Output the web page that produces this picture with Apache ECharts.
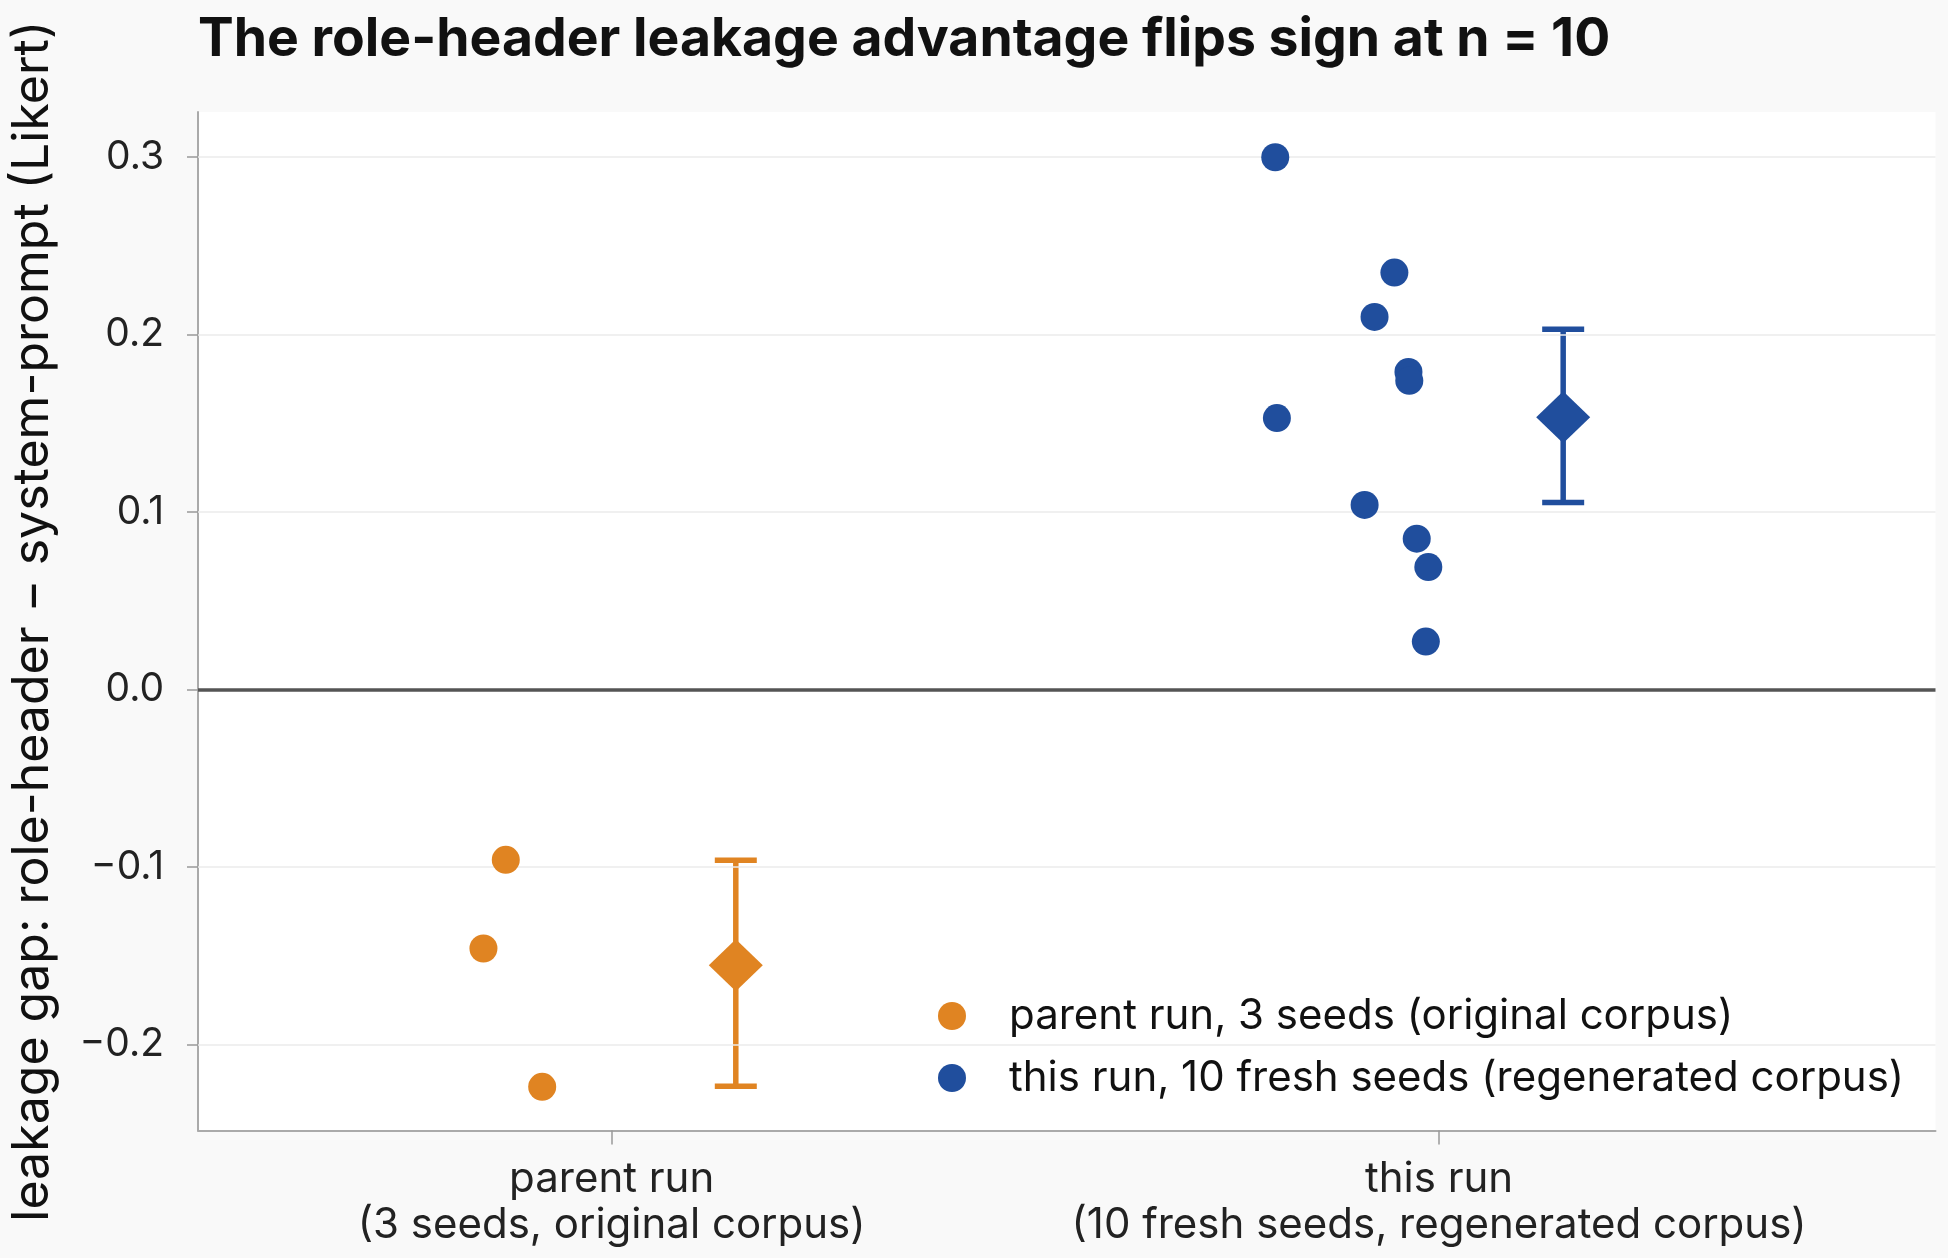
<!DOCTYPE html>
<html>
<head>
    <meta charset="utf-8">
    <style>
        html, body { margin: 0; padding: 0; background: #f9f9f9; }
        #main { width: 1948px; height: 1258px; }
    </style>
    <script src="https://cdn.jsdelivr.net/npm/echarts@6/dist/echarts.min.js"></script>
</head>
<body>
<div id="main"></div>
<script>
    // runs on the x axis (0 = parent run, 1 = this run)
    var runLabels = ['parent run\n(3 seeds, original corpus)', 'this run\n(10 fresh seeds, regenerated corpus)'];
    var legendNames = ['parent run, 3 seeds (original corpus)', 'this run, 10 fresh seeds (regenerated corpus)'];
    var colors = ['#e08422', '#204e9d'];

    // per-seed leakage gaps and their horizontal jitter
    var parentGaps = [-0.096, -0.146, -0.224];
    var parentJitter = [-0.128, -0.155, -0.084];
    var thisGaps = [0.300, 0.235, 0.210, 0.179, 0.174, 0.153, 0.104, 0.085, 0.069, 0.027];
    var thisJitter = [-0.198, -0.054, -0.078, -0.037, -0.036, -0.196, -0.090, -0.027, -0.013, -0.016];

    // mean and interval per run
    var means = [-0.1555, 0.1535];
    var lows = [-0.2237, 0.1054];
    var highs = [-0.0963, 0.2031];
    var meanOffset = 0.15;

    var yTicks = [-0.2, -0.1, 0.0, 0.1, 0.2, 0.3];

    function pts(run, gaps, jitter) {
        return gaps.map(function (g, i) { return [run + jitter[i], g]; });
    }

    var chart = echarts.init(document.getElementById('main'));
    var font = 'Inter, "DejaVu Sans", sans-serif';

    function errorBar(color) {
        return function (params, api) {
            var x = api.value(0);
            var lo = api.coord([x, api.value(1)]);
            var hi = api.coord([x, api.value(2)]);
            var cap = 21;
            var style = { stroke: color, lineWidth: 5.5 };
            return {
                type: 'group',
                children: [
                    { type: 'line', shape: { x1: lo[0], y1: lo[1], x2: hi[0], y2: hi[1] }, style: style },
                    { type: 'line', shape: { x1: lo[0] - cap, y1: lo[1], x2: lo[0] + cap, y2: lo[1] }, style: style },
                    { type: 'line', shape: { x1: hi[0] - cap, y1: hi[1], x2: hi[0] + cap, y2: hi[1] }, style: style }
                ]
            };
        };
    }

    var option = {
        backgroundColor: '#f9f9f9',
        animation: false,
        textStyle: { fontFamily: font },
        title: {
            text: 'The role-header leakage advantage flips sign at n = 10',
            left: 193, top: 8,
            textStyle: { fontSize: 53.5, fontWeight: 'bold', color: '#111', fontFamily: font }
        },
        grid: {
            left: 197.5, right: 12.5, top: 112, bottom: 127.5,
            show: true, backgroundColor: '#ffffff', borderWidth: 0
        },
        legend: {
            orient: 'vertical',
            left: 938, top: 993,
            icon: 'circle',
            itemWidth: 28, itemHeight: 28, itemGap: 16,
            padding: 0,
            data: legendNames,
            textStyle: { fontSize: 42, color: '#111', fontFamily: font, lineHeight: 46, padding: [0, 0, 0, 38] }
        },
        xAxis: {
            type: 'value', min: -0.5, max: 1.6,
            axisLine: { show: true, onZero: false, lineStyle: { color: '#aaaaaa', width: 2 } },
            axisTick: { show: true, customValues: [0, 1], length: 14, lineStyle: { color: '#999', width: 1.5 } },
            axisLabel: {
                customValues: [0, 1], margin: 26,
                fontSize: 42, lineHeight: 46, color: '#222', fontFamily: font,
                formatter: function (v) { return runLabels[Math.round(v)]; }
            },
            splitLine: { show: false }
        },
        yAxis: {
            type: 'value', min: -0.2486, max: 0.3255,
            name: 'leakage gap: role-header \u2212 system-prompt (Likert)',
            nameLocation: 'middle', nameRotate: 90, nameGap: 140,
            nameTextStyle: { fontSize: 50, color: '#111', fontFamily: font },
            axisLine: { show: true, onZero: false, lineStyle: { color: '#aaaaaa', width: 2 } },
            axisTick: { show: true, customValues: yTicks, length: 11, lineStyle: { color: '#999', width: 1.5 } },
            axisLabel: {
                customValues: yTicks, margin: 34,
                fontSize: 39, color: '#222', fontFamily: font,
                formatter: function (v) {
                    var s = Math.abs(v).toFixed(1);
                    return v < -1e-9 ? '\u2212' + s : s;
                }
            },
            splitLine: { show: false }
        },
        series: [
            {
                name: 'grid', type: 'line', data: [], silent: true, z: 1,
                markLine: {
                    silent: true, symbol: 'none', label: { show: false }, animation: false,
                    lineStyle: { color: '#ebebeb', width: 1.6, type: 'solid' },
                    data: yTicks.filter(function (v) { return v !== 0; }).map(function (v) { return { yAxis: v }; })
                }
            },
            {
                name: 'zero', type: 'line', data: [], silent: true, z: 2,
                markLine: {
                    silent: true, symbol: 'none', label: { show: false }, animation: false,
                    lineStyle: { color: '#555555', width: 3.5, type: 'solid' },
                    data: [{ yAxis: 0 }]
                }
            },
            {
                name: legendNames[0], type: 'scatter', symbol: 'circle', symbolSize: 28, z: 5,
                itemStyle: { color: colors[0], opacity: 1 },
                data: pts(0, parentGaps, parentJitter)
            },
            {
                name: legendNames[1], type: 'scatter', symbol: 'circle', symbolSize: 28, z: 5,
                itemStyle: { color: colors[1], opacity: 1 },
                data: pts(1, thisGaps, thisJitter)
            },
            {
                name: 'parent interval', type: 'custom', z: 4,
                renderItem: errorBar(colors[0]),
                data: [[0 + meanOffset, lows[0], highs[0]]]
            },
            {
                name: 'this interval', type: 'custom', z: 4,
                renderItem: errorBar(colors[1]),
                data: [[1 + meanOffset, lows[1], highs[1]]]
            },
            {
                name: 'parent mean', type: 'scatter', symbol: 'diamond', symbolSize: [54, 52], z: 6,
                itemStyle: { color: colors[0], opacity: 1 },
                data: [[0 + meanOffset, means[0]]]
            },
            {
                name: 'this mean', type: 'scatter', symbol: 'diamond', symbolSize: [54, 52], z: 6,
                itemStyle: { color: colors[1], opacity: 1 },
                data: [[1 + meanOffset, means[1]]]
            }
        ]
    };

    chart.setOption(option);
</script>
</body>
</html>
